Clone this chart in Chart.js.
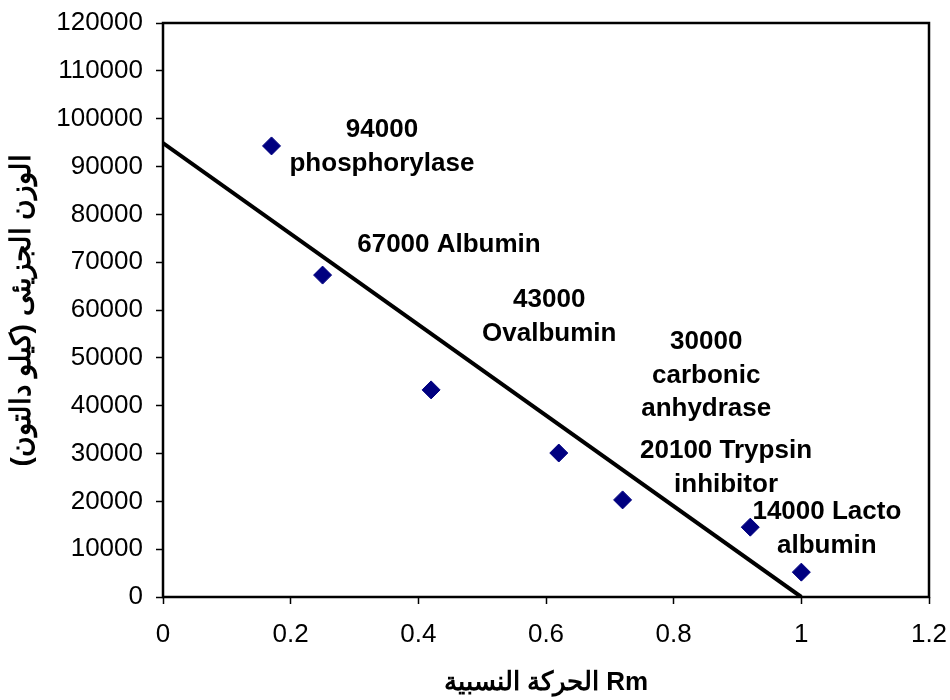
<!DOCTYPE html>
<html>
<head>
<meta charset="utf-8">
<script src="https://cdn.jsdelivr.net/npm/chart.js@4"></script>
<style>
  html, body { margin: 0; padding: 0; background: #fff; }
  #wrap { width: 950px; height: 700px; }
</style>
</head>
<body>
<div id="wrap"><canvas id="chart-rm"></canvas></div>
<script>
// measured points (Rm, molecular weight)
const rmValues = [0.17, 0.25, 0.42, 0.62, 0.72, 0.92, 1.0];
const weightValues = [94300, 67300, 43300, 30100, 20300, 14600, 5200];

// straight fit line ends
const fitX = [0, 1.0];
const fitY = [94900, 0];

// protein labels: lines, anchor (Rm, weight) of first line
const labelLines = [
    ['94000', 'phosphorylase'],
    ['67000 Albumin'],
    ['43000', 'Ovalbumin'],
    ['30000', 'carbonic', 'anhydrase'],
    ['20100 Trypsin', 'inhibitor'],
    ['14000 Lacto', 'albumin'],
];
const labelX = [0.343, 0.448, 0.605, 0.851, 0.882, 1.040];
const labelY = [97600, 73600, 62100, 53300, 30500, 17800];

const xTitle = 'الحركة النسبية Rm';
const yTitle = 'الوزن الجزيئى (كيلو دالتون)';

const frameBox = {
    id: 'frameBox',
    afterDraw(chart) {
        const { ctx, chartArea: a } = chart;
        ctx.save();
        ctx.strokeStyle = '#000';
        ctx.lineWidth = 2.5;
        ctx.strokeRect(a.left, a.top, a.right - a.left, a.bottom - a.top);
        ctx.restore();
    },
};

const proteinLabels = {
    id: 'proteinLabels',
    afterDatasetsDraw(chart) {
        const { ctx, scales } = chart;
        ctx.save();
        ctx.font = 'bold 26px "Liberation Sans", Arial, sans-serif';
        ctx.fillStyle = '#000';
        ctx.textAlign = 'center';
        ctx.textBaseline = 'middle';
        labelLines.forEach((lines, i) => {
            const px = scales.x.getPixelForValue(labelX[i]);
            const py = scales.y.getPixelForValue(labelY[i]);
            lines.forEach((t, j) => ctx.fillText(t, px, py + j * 33.5));
        });
        ctx.restore();
    },
};

const tickFont = { family: '"Liberation Sans", Arial, sans-serif', size: 26 };
const titleFont = { family: '"Liberation Sans", Arial, sans-serif', size: 26, weight: 'bold' };

function noPad(scale) {
    scale.paddingLeft = 0;
    scale.paddingRight = 0;
    scale.paddingTop = 0;
    scale.paddingBottom = 0;
}

new Chart(document.getElementById('chart-rm'), {
    type: 'scatter',
    data: {
        datasets: [
            {
                label: 'Proteins',
                data: rmValues.map((x, i) => ({ x: x, y: weightValues[i] })),
                pointStyle: 'rectRot',
                pointRadius: 9,
                pointHoverRadius: 9,
                backgroundColor: '#000080',
                borderColor: '#000080',
                borderWidth: 1,
            },
            {
                type: 'line',
                label: 'Fit',
                data: fitX.map((x, i) => ({ x: x, y: fitY[i] })),
                borderColor: '#000',
                borderWidth: 4,
                pointRadius: 0,
                fill: false,
            },
        ],
    },
    options: {
        responsive: true,
        maintainAspectRatio: false,
        animation: false,
        layout: { padding: { top: 23, right: 21, left: 0, bottom: 0 } },
        plugins: {
            legend: { display: false },
            tooltip: { enabled: false },
        },
        scales: {
            x: {
                type: 'linear',
                min: 0,
                max: 1.2,
                afterFit(scale) { scale.height = 103; noPad(scale); },
                grid: {
                    drawOnChartArea: false,
                    drawTicks: true,
                    tickLength: 7,
                    color: '#000',
                    tickWidth: 1.5,
                },
                border: { display: false },
                ticks: {
                    stepSize: 0.2,
                    padding: 15,
                    color: '#000',
                    font: tickFont,
                    maxRotation: 0,
                    callback: (v) => String(Math.round(v * 10) / 10),
                },
                title: {
                    display: true,
                    text: xTitle,
                    color: '#000',
                    font: titleFont,
                    padding: { top: 0, bottom: 2 },
                },
            },
            y: {
                type: 'linear',
                min: 0,
                max: 120000,
                afterFit(scale) { scale.width = 163; noPad(scale); },
                grid: {
                    drawOnChartArea: false,
                    drawTicks: true,
                    tickLength: 7,
                    color: '#000',
                    tickWidth: 1.5,
                },
                border: { display: false },
                ticks: {
                    stepSize: 10000,
                    padding: 13,
                    color: '#000',
                    font: tickFont,
                    callback: (v) => String(v),
                },
                title: {
                    display: true,
                    text: yTitle,
                    color: '#000',
                    font: { family: titleFont.family, size: 28, weight: 'bold' },
                    padding: { top: 5, bottom: 0 },
                },
            },
        },
    },
    plugins: [frameBox, proteinLabels],
});
</script>
</body>
</html>
